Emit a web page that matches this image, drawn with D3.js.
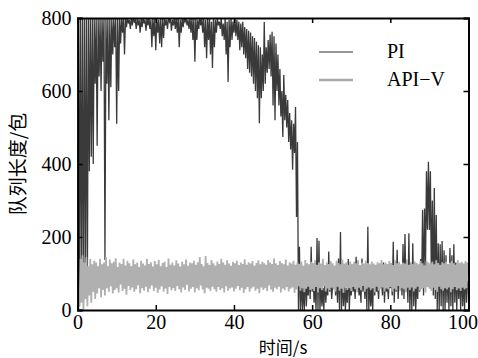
<!DOCTYPE html>
<html>
<head>
<meta charset="utf-8">
<script src="https://cdn.jsdelivr.net/npm/d3@7"></script>
<style>
  body { margin: 0; background: #fff; }
  svg text { font-family: "Liberation Serif", "DejaVu Serif", serif; }
  .cjk { font-family: "Noto Sans CJK SC", sans-serif; }
</style>
</head>
<body>
<div id="chart"></div>
<script>
// queue length per 0.5 s bin: each bin holds the low and the high reading
const binStep = 0.5;

const piLo = [
  0,40,90,20,110,60,380,420,400,620,
  450,640,600,680,137,620,520,610,700,720,
  510,600,730,760,700,775,785,770,780,790,
  770,780,760,775,785,765,780,770,720,750,
  712,760,730,720,745,780,770,790,765,780,
  770,760,720,760,775,790,780,770,760,740,
  680,740,770,780,760,720,690,740,700,663,
  720,760,780,770,750,740,700,625,720,740,
  760,750,740,712,720,700,690,660,650,640,
  620,600,580,512,580,600,620,650,660,640,
  560,520,600,560,530,474,520,500,460,440,
  384,430,255,0,0,0,0,10,40,30,
  50,20,0,0,0,10,0,20,40,50,
  30,60,40,20,0,0,10,0,20,0,
  40,50,30,60,40,20,50,30,0,0,
  10,0,40,50,30,60,40,20,50,30,
  60,40,20,50,30,60,40,30,50,20,
  0,0,10,0,30,50,60,40,120,220,
  219,80,40,30,0,0,10,0,0,20,
  0,10,0,20,0,30,0,10,0,20
];
const piHi = [
  800,800,800,800,800,800,800,800,800,800,
  800,800,800,800,800,800,800,800,800,800,
  800,800,800,800,800,800,795,800,800,795,
  800,795,800,800,795,800,800,795,800,800,
  800,795,800,800,800,795,800,800,795,800,
  800,800,795,800,800,800,795,800,800,800,
  800,795,800,800,800,795,800,800,790,800,
  795,800,790,800,785,800,790,795,800,790,
  800,795,790,785,790,775,770,765,760,750,
  745,735,725,720,700,789,720,740,755,762,
  750,730,700,660,600,644,590,575,540,520,
  510,556,460,173,90,60,119,70,100,173,
  90,70,197,190,80,60,100,70,160,90,
  70,110,90,141,214,100,80,60,140,70,
  100,80,146,90,70,141,90,110,228,80,
  60,123,80,70,100,80,130,90,70,100,
  80,187,120,165,90,100,181,208,110,210,
  120,183,119,80,100,140,274,278,380,406,
  380,300,334,260,183,180,189,164,150,119,
  170,150,180,130,120,100,130,90,125,80
];

const apiLo = [
  0,10,20,0,30,10,40,20,50,30,
  45,60,35,55,40,60,50,65,45,55,
  60,48,70,52,58,42,66,55,62,50,
  57,68,46,60,53,64,49,58,67,52,
  61,47,56,65,50,59,44,63,54,60,
  52,66,57,48,62,55,69,51,58,63,
  49,60,54,67,56,45,61,58,52,64,
  57,50,63,55,60,48,65,53,59,62,
  51,58,66,54,61,47,57,63,50,59,
  64,53,58,46,62,55,60,52,67,56,
  50,61,57,64,48,59,54,63,51,58,
  62,47,56,65,53,60,49,58,64,55,
  57,52,63,48,60,55,66,51,59,54,
  61,56,50,64,53,58,47,62,55,60,
  52,63,57,49,61,54,66,50,58,62,
  55,60,48,64,53,57,62,51,59,56,
  63,50,58,54,66,52,60,57,49,61,
  55,62,51,58,64,53,57,60,48,63,
  58,52,61,55,50,64,57,53,60,56,
  62,49,57,63,54,59,52,61,56,60
];
const apiHi = [
  60,140,150,130,145,120,140,125,135,130,
  120,140,125,130,145,120,138,128,132,142,
  118,130,126,140,122,135,128,120,138,125,
  130,118,135,127,122,140,126,131,119,134,
  125,137,120,129,133,118,141,124,130,122,
  136,127,119,132,125,138,121,130,128,135,
  124,131,145,126,120,148,129,123,137,128,
  122,133,126,140,130,124,136,127,121,132,
  128,135,123,130,126,139,124,131,127,134,
  121,129,136,125,132,128,124,137,130,126,
  141,127,123,134,129,125,138,122,131,127,
  135,124,130,126,133,121,137,128,125,132,
  129,136,124,131,127,140,123,130,126,134,
  128,122,135,129,125,138,127,131,124,133,
  126,132,128,136,123,130,127,135,129,125,
  133,127,124,131,128,137,125,130,126,134,
  129,123,136,128,132,125,130,127,138,124,
  131,126,133,129,125,135,128,122,134,130,
  127,132,125,136,129,124,131,128,133,126,
  130,135,128,124,137,129,132,127,134,130
];

const xTicks = [0, 20, 40, 60, 80, 100];
const yTicks = [0, 200, 400, 600, 800];
const legendNames = ["PI", "API\u2212V"];

const width = 478, height = 358;
const margin = { left: 77.6, right: 9.5, top: 18, bottom: 48 };

const svg = d3.select("#chart").append("svg")
  .attr("width", width)
  .attr("height", height);

const x = d3.scaleLinear().domain([0, 100]).range([margin.left, width - margin.right]);
const y = d3.scaleLinear().domain([0, 800]).range([height - margin.bottom, margin.top]);

// turn lo/hi bins into one trace
function trace(lo, hi) {
  let pts = [];
  lo.forEach((v, i) => {
    pts.push([i * binStep, v]);
    pts.push([i * binStep + binStep / 2, hi[i]]);
  });
  return pts;
}

const line = d3.line()
  .x(d => x(d[0]))
  .y(d => y(d[1]));

svg.append("defs").append("clipPath").attr("id", "plotclip")
  .append("rect")
  .attr("x", x(0)).attr("y", y(800))
  .attr("width", x(100) - x(0)).attr("height", y(0) - y(800));

const plot = svg.append("g").attr("clip-path", "url(#plotclip)");

// PI underneath, API-V band drawn over it
plot.append("path")
  .datum(trace(piLo, piHi))
  .attr("fill", "none")
  .attr("stroke", "#3a3a3a")
  .attr("stroke-width", 1.3)
  .attr("d", line);

plot.append("path")
  .datum(trace(apiLo, apiHi))
  .attr("fill", "none")
  .attr("stroke", "#b0b0b0")
  .attr("stroke-width", 1.8)
  .attr("d", line);

// axes with inward ticks on all four sides
const axBottom = svg.append("g")
  .attr("transform", `translate(0,${y(0)})`)
  .call(d3.axisBottom(x).tickValues(xTicks).tickSize(-5).tickPadding(5));
const axTop = svg.append("g")
  .attr("transform", `translate(0,${y(800)})`)
  .call(d3.axisTop(x).tickValues(xTicks).tickSize(-5).tickFormat(""));
const axLeft = svg.append("g")
  .attr("transform", `translate(${x(0)},0)`)
  .call(d3.axisLeft(y).tickValues(yTicks).tickSize(-5).tickPadding(6));
const axRight = svg.append("g")
  .attr("transform", `translate(${x(100)},0)`)
  .call(d3.axisRight(y).tickValues(yTicks).tickSize(-5).tickFormat(""));

[axBottom, axTop, axLeft, axRight].forEach(g => {
  g.select(".domain").attr("stroke", "#000").attr("stroke-width", 2);
  g.selectAll(".tick line").attr("stroke", "#000").attr("stroke-width", 1.5);
  g.selectAll("text").attr("fill", "#000").attr("font-size", 20)
    .attr("font-family", "Liberation Serif, serif");
});
// keep the last x label inside the window
axBottom.selectAll(".tick text").filter(d => d === 100).attr("dx", -6);

// axis titles
svg.append("text")
  .attr("class", "cjk")
  .attr("transform", `translate(25,${(y(0) + y(800)) / 2}) rotate(-90)`)
  .attr("text-anchor", "middle")
  .attr("font-size", 19)
  .text("队列长度/包");

svg.append("text")
  .attr("class", "cjk")
  .attr("x", (x(0) + x(100)) / 2 + 10)
  .attr("y", 354)
  .attr("text-anchor", "middle")
  .attr("font-size", 17)
  .text("时间/s");

// legend
const legend = svg.append("g");
legendNames.forEach((name, i) => {
  const ly = 52 + i * 28;
  legend.append("line")
    .attr("x1", 319).attr("x2", 353)
    .attr("y1", ly).attr("y2", ly)
    .attr("stroke", i === 0 ? "#333" : "#aaa")
    .attr("stroke-width", i === 0 ? 1 : 2.5);
  legend.append("text")
    .attr("x", 387).attr("y", ly + 6)
    .attr("font-size", 20)
    .text(name);
});
</script>
</body>
</html>
